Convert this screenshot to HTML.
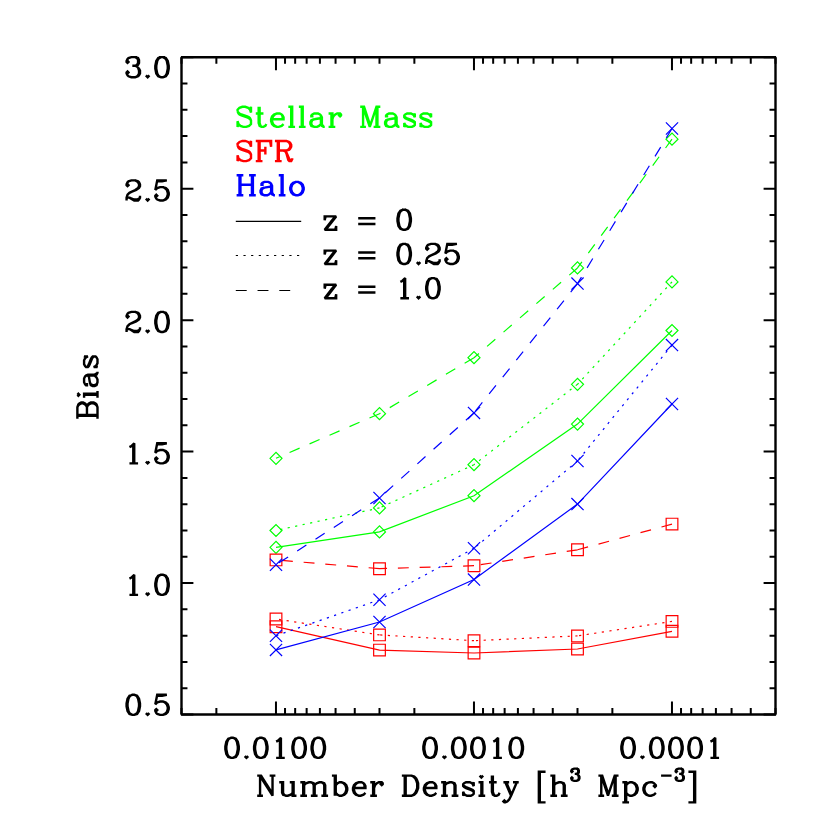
<!DOCTYPE html><html><head><meta charset="utf-8"><title>Bias vs Number Density</title><style>html,body{margin:0;padding:0;background:#fff;font-family:"Liberation Sans",sans-serif}svg{display:block}</style></head><body><svg width="830" height="830" viewBox="0 0 830 830"><rect width="830" height="830" fill="#fff"/><g fill="none" stroke-width="1.20"><path d="M672.00 330.50L577.50 424.10L474.00 495.70L379.50 531.90L276.00 547.30" stroke="#00ff00"/><path d="M270.00 547.30L276.00 541.30L282.00 547.30L276.00 553.30ZM373.50 531.90L379.50 525.90L385.50 531.90L379.50 537.90ZM468.00 495.70L474.00 489.70L480.00 495.70L474.00 501.70ZM571.50 424.10L577.50 418.10L583.50 424.10L577.50 430.10ZM666.00 330.50L672.00 324.50L678.00 330.50L672.00 336.50Z" stroke="#00ff00"/><path d="M672.00 281.90L577.50 384.30M577.50 384.30L474.00 464.70M474.00 464.70L379.50 507.95M379.50 507.95L276.00 530.50" stroke="#00ff00" stroke-dasharray="2.2 5.45"/><path d="M270.00 530.50L276.00 524.50L282.00 530.50L276.00 536.50ZM373.50 507.95L379.50 501.95L385.50 507.95L379.50 513.95ZM468.00 464.70L474.00 458.70L480.00 464.70L474.00 470.70ZM571.50 384.30L577.50 378.30L583.50 384.30L577.50 390.30ZM666.00 281.90L672.00 275.90L678.00 281.90L672.00 287.90Z" stroke="#00ff00"/><path d="M672.00 139.20L577.50 267.95M577.50 267.95L474.00 357.70M474.00 357.70L379.50 413.70M379.50 413.70L276.00 458.30" stroke="#00ff00" stroke-dasharray="10.9 10.85"/><path d="M270.00 458.30L276.00 452.30L282.00 458.30L276.00 464.30ZM373.50 413.70L379.50 407.70L385.50 413.70L379.50 419.70ZM468.00 357.70L474.00 351.70L480.00 357.70L474.00 363.70ZM571.50 267.95L577.50 261.95L583.50 267.95L577.50 273.95ZM666.00 139.20L672.00 133.20L678.00 139.20L672.00 145.20Z" stroke="#00ff00"/><path d="M672.00 631.30L577.50 649.00L474.00 653.00L379.50 650.10L276.00 626.70" stroke="#ff0000"/><path d="M270.15 620.85H281.85V632.55H270.15ZM373.65 644.25H385.35V655.95H373.65ZM468.15 647.15H479.85V658.85H468.15ZM571.65 643.15H583.35V654.85H571.65ZM666.15 625.45H677.85V637.15H666.15Z" stroke="#ff0000"/><path d="M672.00 621.40L577.50 635.90M577.50 635.90L474.00 640.70M474.00 640.70L379.50 634.90M379.50 634.90L276.00 619.00" stroke="#ff0000" stroke-dasharray="2.2 5.45"/><path d="M270.15 613.15H281.85V624.85H270.15ZM373.65 629.05H385.35V640.75H373.65ZM468.15 634.85H479.85V646.55H468.15ZM571.65 630.05H583.35V641.75H571.65ZM666.15 615.55H677.85V627.25H666.15Z" stroke="#ff0000"/><path d="M672.00 524.10L577.50 549.80M577.50 549.80L474.00 565.70M474.00 565.70L379.50 568.70M379.50 568.70L276.00 559.90" stroke="#ff0000" stroke-dasharray="10.9 10.85"/><path d="M270.15 554.05H281.85V565.75H270.15ZM373.65 562.85H385.35V574.55H373.65ZM468.15 559.85H479.85V571.55H468.15ZM571.65 543.95H583.35V555.65H571.65ZM666.15 518.25H677.85V529.95H666.15Z" stroke="#ff0000"/><path d="M672.00 404.00L577.50 504.10L474.00 579.60L379.50 622.00L276.00 649.90" stroke="#0000ff"/><path d="M269.90 643.80L282.10 656.00M269.90 656.00L282.10 643.80M373.40 615.90L385.60 628.10M373.40 628.10L385.60 615.90M467.90 573.50L480.10 585.70M467.90 585.70L480.10 573.50M571.40 498.00L583.60 510.20M571.40 510.20L583.60 498.00M665.90 397.90L678.10 410.10M665.90 410.10L678.10 397.90" stroke="#0000ff"/><path d="M672.00 345.06L577.50 461.00M577.50 461.00L474.00 548.30M474.00 548.30L379.50 599.80M379.50 599.80L276.00 635.70" stroke="#0000ff" stroke-dasharray="2.2 5.45"/><path d="M269.90 629.60L282.10 641.80M269.90 641.80L282.10 629.60M373.40 593.70L385.60 605.90M373.40 605.90L385.60 593.70M467.90 542.20L480.10 554.40M467.90 554.40L480.10 542.20M571.40 454.90L583.60 467.10M571.40 467.10L583.60 454.90M665.90 338.96L678.10 351.16M665.90 351.16L678.10 338.96" stroke="#0000ff"/><path d="M672.00 128.55L577.50 283.60M577.50 283.60L474.00 412.90M474.00 412.90L379.50 497.95M379.50 497.95L276.00 564.70" stroke="#0000ff" stroke-dasharray="10.9 10.85"/><path d="M269.90 558.60L282.10 570.80M269.90 570.80L282.10 558.60M373.40 491.85L385.60 504.05M373.40 504.05L385.60 491.85M467.90 406.80L480.10 419.00M467.90 419.00L480.10 406.80M571.40 277.50L583.60 289.70M571.40 289.70L583.60 277.50M665.90 122.45L678.10 134.65M665.90 134.65L678.10 122.45" stroke="#0000ff"/></g><g fill="none" stroke="#000" stroke-width="1.05"><path d="M235.80 221.35H301.20"/><path d="M235.80 255.50H301.20" stroke-dasharray="2.2 5.45"/><path d="M235.80 290.45H300.20" stroke-dasharray="10.9 10.85"/></g><g fill="none" stroke="#000"><path d="M180.90 714.50H776.10M180.90 57.25H776.10M181.50 57.25V714.50M775.50 57.25V714.50" stroke-width="2.40"/><path d="M181.50 714.50h11.90M775.50 714.50h-11.90M181.50 688.21h5.95M775.50 688.21h-5.95M181.50 661.92h5.95M775.50 661.92h-5.95M181.50 635.63h5.95M775.50 635.63h-5.95M181.50 609.34h5.95M775.50 609.34h-5.95M181.50 583.05h11.90M775.50 583.05h-11.90M181.50 556.76h5.95M775.50 556.76h-5.95M181.50 530.47h5.95M775.50 530.47h-5.95M181.50 504.18h5.95M775.50 504.18h-5.95M181.50 477.89h5.95M775.50 477.89h-5.95M181.50 451.60h11.90M775.50 451.60h-11.90M181.50 425.31h5.95M775.50 425.31h-5.95M181.50 399.02h5.95M775.50 399.02h-5.95M181.50 372.73h5.95M775.50 372.73h-5.95M181.50 346.44h5.95M775.50 346.44h-5.95M181.50 320.15h11.90M775.50 320.15h-11.90M181.50 293.86h5.95M775.50 293.86h-5.95M181.50 267.57h5.95M775.50 267.57h-5.95M181.50 241.28h5.95M775.50 241.28h-5.95M181.50 214.99h5.95M775.50 214.99h-5.95M181.50 188.70h11.90M775.50 188.70h-11.90M181.50 162.41h5.95M775.50 162.41h-5.95M181.50 136.12h5.95M775.50 136.12h-5.95M181.50 109.83h5.95M775.50 109.83h-5.95M181.50 83.54h5.95M775.50 83.54h-5.95M181.50 57.25h11.90M775.50 57.25h-11.90M275.97 714.50v-13.10M275.97 57.25v13.10M216.37 714.50v-6.55M216.37 57.25v6.55M181.50 714.50v-6.55M181.50 57.25v6.55M473.97 714.50v-13.10M473.97 57.25v13.10M414.37 714.50v-6.55M414.37 57.25v6.55M379.50 714.50v-6.55M379.50 57.25v6.55M354.76 714.50v-6.55M354.76 57.25v6.55M335.57 714.50v-6.55M335.57 57.25v6.55M319.90 714.50v-6.55M319.90 57.25v6.55M306.64 714.50v-6.55M306.64 57.25v6.55M295.16 714.50v-6.55M295.16 57.25v6.55M285.03 714.50v-6.55M285.03 57.25v6.55M671.97 714.50v-13.10M671.97 57.25v13.10M612.37 714.50v-6.55M612.37 57.25v6.55M577.50 714.50v-6.55M577.50 57.25v6.55M552.76 714.50v-6.55M552.76 57.25v6.55M533.57 714.50v-6.55M533.57 57.25v6.55M517.90 714.50v-6.55M517.90 57.25v6.55M504.64 714.50v-6.55M504.64 57.25v6.55M493.16 714.50v-6.55M493.16 57.25v6.55M483.03 714.50v-6.55M483.03 57.25v6.55M775.50 714.50v-6.55M775.50 57.25v6.55M750.76 714.50v-6.55M750.76 57.25v6.55M731.57 714.50v-6.55M731.57 57.25v6.55M715.90 714.50v-6.55M715.90 57.25v6.55M702.64 714.50v-6.55M702.64 57.25v6.55M691.16 714.50v-6.55M691.16 57.25v6.55M681.03 714.50v-6.55M681.03 57.25v6.55" stroke-width="2.00"/></g><g fill="none" stroke-linecap="butt" stroke-linejoin="miter" stroke-miterlimit="1.5"><path d="M127.53 60.96L128.49 61.92L127.53 62.88L126.57 61.92L126.57 60.96L127.53 59.05L128.49 58.09L131.36 57.13L135.20 57.13L138.07 58.09L139.03 60.01L139.03 62.88L138.07 64.80L135.20 65.75L132.32 65.75M127.53 73.42L128.49 72.46L127.53 71.50L126.57 72.46L126.57 73.42L127.53 75.33L128.49 76.29L131.36 77.25L135.20 77.25L138.07 76.29L139.03 75.33L139.99 73.42L139.99 70.54L139.03 68.63L137.11 66.71L135.20 65.75L137.11 64.80L138.07 62.88L138.07 60.01L137.11 58.09L135.20 57.13M135.20 77.25L137.11 76.29L138.07 75.33L139.03 73.42L139.03 70.54L138.07 67.67M147.65 75.33L146.69 76.29L147.65 77.25L148.61 76.29L147.65 75.33M161.06 57.13L158.19 58.09L156.27 60.96L155.31 65.75L155.31 68.63L156.27 73.42L158.19 76.29L161.06 77.25L162.98 77.25L165.85 76.29L167.77 73.42L168.73 68.63L168.73 65.75L167.77 60.96L165.85 58.09L162.98 57.13L161.06 57.13L159.15 58.09L158.19 59.05L157.23 60.96L156.27 65.75L156.27 68.63L157.23 73.42L158.19 75.33L159.15 76.29L161.06 77.25M162.98 57.13L164.89 58.09L165.85 59.05L166.81 60.96L167.77 65.75L167.77 68.63L166.81 73.42L165.85 75.33L164.89 76.29L162.98 77.25" stroke="#000" stroke-width="2.40" /><path d="M126.57 198.58L126.57 197.63L127.53 194.75L129.45 192.84L135.20 189.96L138.07 188.05L139.03 186.13L139.03 184.21L138.07 182.30L137.11 181.34L135.20 180.38L131.36 180.38L128.49 181.34L127.53 182.30L126.57 184.21L126.57 185.17L127.53 186.13L128.49 185.17L127.53 184.21M126.57 198.58L126.57 200.50M126.57 198.58L127.53 197.63L129.45 197.63L134.24 199.54L137.11 199.54L139.03 198.58L139.99 197.63L139.99 195.71M129.45 197.63L134.24 200.50L138.07 200.50L139.03 199.54L139.99 197.63M131.36 191.88L136.15 189.96L139.03 188.05L139.99 186.13L139.99 184.21L139.03 182.30L138.07 181.34L135.20 180.38M147.65 198.58L146.69 199.54L147.65 200.50L148.61 199.54L147.65 198.58M156.27 196.67L157.23 195.71L156.27 194.75L155.31 195.71L155.31 196.67L156.27 198.58L157.23 199.54L160.10 200.50L162.98 200.50L165.85 199.54L167.77 197.63L168.73 194.75L168.73 192.84L167.77 189.96L165.85 188.05L162.98 187.09L160.10 187.09L157.23 188.05L155.31 189.96L157.23 180.38L166.81 180.38L162.02 181.34L157.23 181.34M162.98 187.09L164.89 188.05L166.81 189.96L167.77 192.84L167.77 194.75L166.81 197.63L164.89 199.54L162.98 200.50" stroke="#000" stroke-width="2.40" /><path d="M126.57 330.03L126.57 329.08L127.53 326.20L129.45 324.29L135.20 321.41L138.07 319.50L139.03 317.58L139.03 315.66L138.07 313.75L137.11 312.79L135.20 311.83L131.36 311.83L128.49 312.79L127.53 313.75L126.57 315.66L126.57 316.62L127.53 317.58L128.49 316.62L127.53 315.66M126.57 330.03L126.57 331.95M126.57 330.03L127.53 329.08L129.45 329.08L134.24 330.99L137.11 330.99L139.03 330.03L139.99 329.08L139.99 327.16M129.45 329.08L134.24 331.95L138.07 331.95L139.03 330.99L139.99 329.08M131.36 323.33L136.15 321.41L139.03 319.50L139.99 317.58L139.99 315.66L139.03 313.75L138.07 312.79L135.20 311.83M147.65 330.03L146.69 330.99L147.65 331.95L148.61 330.99L147.65 330.03M161.06 311.83L158.19 312.79L156.27 315.66L155.31 320.45L155.31 323.33L156.27 328.12L158.19 330.99L161.06 331.95L162.98 331.95L165.85 330.99L167.77 328.12L168.73 323.33L168.73 320.45L167.77 315.66L165.85 312.79L162.98 311.83L161.06 311.83L159.15 312.79L158.19 313.75L157.23 315.66L156.27 320.45L156.27 323.33L157.23 328.12L158.19 330.03L159.15 330.99L161.06 331.95M162.98 311.83L164.89 312.79L165.85 313.75L166.81 315.66L167.77 320.45L167.77 323.33L166.81 328.12L165.85 330.03L164.89 330.99L162.98 331.95" stroke="#000" stroke-width="2.40" /><path d="M129.45 447.11L131.36 446.16L134.24 443.28L134.24 463.40L129.45 463.40M133.28 444.24L133.28 463.40M134.24 463.40L138.07 463.40M147.65 461.48L146.69 462.44L147.65 463.40L148.61 462.44L147.65 461.48M156.27 459.57L157.23 458.61L156.27 457.65L155.31 458.61L155.31 459.57L156.27 461.48L157.23 462.44L160.10 463.40L162.98 463.40L165.85 462.44L167.77 460.53L168.73 457.65L168.73 455.74L167.77 452.86L165.85 450.95L162.98 449.99L160.10 449.99L157.23 450.95L155.31 452.86L157.23 443.28L166.81 443.28L162.02 444.24L157.23 444.24M162.98 449.99L164.89 450.95L166.81 452.86L167.77 455.74L167.77 457.65L166.81 460.53L164.89 462.44L162.98 463.40" stroke="#000" stroke-width="2.40" /><path d="M129.45 578.56L131.36 577.61L134.24 574.73L134.24 594.85L129.45 594.85M133.28 575.69L133.28 594.85M134.24 594.85L138.07 594.85M147.65 592.93L146.69 593.89L147.65 594.85L148.61 593.89L147.65 592.93M161.06 574.73L158.19 575.69L156.27 578.56L155.31 583.35L155.31 586.23L156.27 591.02L158.19 593.89L161.06 594.85L162.98 594.85L165.85 593.89L167.77 591.02L168.73 586.23L168.73 583.35L167.77 578.56L165.85 575.69L162.98 574.73L161.06 574.73L159.15 575.69L158.19 576.65L157.23 578.56L156.27 583.35L156.27 586.23L157.23 591.02L158.19 592.93L159.15 593.89L161.06 594.85M162.98 574.73L164.89 575.69L165.85 576.65L166.81 578.56L167.77 583.35L167.77 586.23L166.81 591.02L165.85 592.93L164.89 593.89L162.98 594.85" stroke="#000" stroke-width="2.40" /><path d="M132.32 694.78L129.45 695.74L127.53 698.61L126.57 703.40L126.57 706.28L127.53 711.07L129.45 713.94L132.32 714.90L134.24 714.90L137.11 713.94L139.03 711.07L139.99 706.28L139.99 703.40L139.03 698.61L137.11 695.74L134.24 694.78L132.32 694.78L130.41 695.74L129.45 696.70L128.49 698.61L127.53 703.40L127.53 706.28L128.49 711.07L129.45 712.98L130.41 713.94L132.32 714.90M134.24 694.78L136.15 695.74L137.11 696.70L138.07 698.61L139.03 703.40L139.03 706.28L138.07 711.07L137.11 712.98L136.15 713.94L134.24 714.90M147.65 712.98L146.69 713.94L147.65 714.90L148.61 713.94L147.65 712.98M156.27 711.07L157.23 710.11L156.27 709.15L155.31 710.11L155.31 711.07L156.27 712.98L157.23 713.94L160.10 714.90L162.98 714.90L165.85 713.94L167.77 712.03L168.73 709.15L168.73 707.24L167.77 704.36L165.85 702.45L162.98 701.49L160.10 701.49L157.23 702.45L155.31 704.36L157.23 694.78L166.81 694.78L162.02 695.74L157.23 695.74M162.98 701.49L164.89 702.45L166.81 704.36L167.77 707.24L167.77 709.15L166.81 712.03L164.89 713.94L162.98 714.90" stroke="#000" stroke-width="2.40" /><path d="M231.10 737.78L228.23 738.74L226.31 741.61L225.35 746.40L225.35 749.28L226.31 754.07L228.23 756.94L231.10 757.90L233.02 757.90L235.89 756.94L237.81 754.07L238.77 749.28L238.77 746.40L237.81 741.61L235.89 738.74L233.02 737.78L231.10 737.78L229.19 738.74L228.23 739.70L227.27 741.61L226.31 746.40L226.31 749.28L227.27 754.07L228.23 755.98L229.19 756.94L231.10 757.90M233.02 737.78L234.93 738.74L235.89 739.70L236.85 741.61L237.81 746.40L237.81 749.28L236.85 754.07L235.89 755.98L234.93 756.94L233.02 757.90M246.43 755.98L245.47 756.94L246.43 757.90L247.39 756.94L246.43 755.98M259.84 737.78L256.97 738.74L255.05 741.61L254.09 746.40L254.09 749.28L255.05 754.07L256.97 756.94L259.84 757.90L261.76 757.90L264.63 756.94L266.55 754.07L267.51 749.28L267.51 746.40L266.55 741.61L264.63 738.74L261.76 737.78L259.84 737.78L257.93 738.74L256.97 739.70L256.01 741.61L255.05 746.40L255.05 749.28L256.01 754.07L256.97 755.98L257.93 756.94L259.84 757.90M261.76 737.78L263.67 738.74L264.63 739.70L265.59 741.61L266.55 746.40L266.55 749.28L265.59 754.07L264.63 755.98L263.67 756.94L261.76 757.90M276.13 741.61L278.04 740.66L280.92 737.78L280.92 757.90L276.13 757.90M279.96 738.74L279.96 757.90M280.92 757.90L284.75 757.90M298.16 737.78L295.29 738.74L293.37 741.61L292.41 746.40L292.41 749.28L293.37 754.07L295.29 756.94L298.16 757.90L300.08 757.90L302.95 756.94L304.87 754.07L305.83 749.28L305.83 746.40L304.87 741.61L302.95 738.74L300.08 737.78L298.16 737.78L296.25 738.74L295.29 739.70L294.33 741.61L293.37 746.40L293.37 749.28L294.33 754.07L295.29 755.98L296.25 756.94L298.16 757.90M300.08 737.78L301.99 738.74L302.95 739.70L303.91 741.61L304.87 746.40L304.87 749.28L303.91 754.07L302.95 755.98L301.99 756.94L300.08 757.90M317.32 737.78L314.45 738.74L312.53 741.61L311.57 746.40L311.57 749.28L312.53 754.07L314.45 756.94L317.32 757.90L319.24 757.90L322.11 756.94L324.03 754.07L324.99 749.28L324.99 746.40L324.03 741.61L322.11 738.74L319.24 737.78L317.32 737.78L315.41 738.74L314.45 739.70L313.49 741.61L312.53 746.40L312.53 749.28L313.49 754.07L314.45 755.98L315.41 756.94L317.32 757.90M319.24 737.78L321.15 738.74L322.11 739.70L323.07 741.61L324.03 746.40L324.03 749.28L323.07 754.07L322.11 755.98L321.15 756.94L319.24 757.90" stroke="#000" stroke-width="2.40" /><path d="M429.10 737.78L426.23 738.74L424.31 741.61L423.35 746.40L423.35 749.28L424.31 754.07L426.23 756.94L429.10 757.90L431.02 757.90L433.89 756.94L435.81 754.07L436.77 749.28L436.77 746.40L435.81 741.61L433.89 738.74L431.02 737.78L429.10 737.78L427.19 738.74L426.23 739.70L425.27 741.61L424.31 746.40L424.31 749.28L425.27 754.07L426.23 755.98L427.19 756.94L429.10 757.90M431.02 737.78L432.93 738.74L433.89 739.70L434.85 741.61L435.81 746.40L435.81 749.28L434.85 754.07L433.89 755.98L432.93 756.94L431.02 757.90M444.43 755.98L443.47 756.94L444.43 757.90L445.39 756.94L444.43 755.98M457.84 737.78L454.97 738.74L453.05 741.61L452.09 746.40L452.09 749.28L453.05 754.07L454.97 756.94L457.84 757.90L459.76 757.90L462.63 756.94L464.55 754.07L465.51 749.28L465.51 746.40L464.55 741.61L462.63 738.74L459.76 737.78L457.84 737.78L455.93 738.74L454.97 739.70L454.01 741.61L453.05 746.40L453.05 749.28L454.01 754.07L454.97 755.98L455.93 756.94L457.84 757.90M459.76 737.78L461.67 738.74L462.63 739.70L463.59 741.61L464.55 746.40L464.55 749.28L463.59 754.07L462.63 755.98L461.67 756.94L459.76 757.90M477.00 737.78L474.13 738.74L472.21 741.61L471.25 746.40L471.25 749.28L472.21 754.07L474.13 756.94L477.00 757.90L478.92 757.90L481.79 756.94L483.71 754.07L484.67 749.28L484.67 746.40L483.71 741.61L481.79 738.74L478.92 737.78L477.00 737.78L475.09 738.74L474.13 739.70L473.17 741.61L472.21 746.40L472.21 749.28L473.17 754.07L474.13 755.98L475.09 756.94L477.00 757.90M478.92 737.78L480.83 738.74L481.79 739.70L482.75 741.61L483.71 746.40L483.71 749.28L482.75 754.07L481.79 755.98L480.83 756.94L478.92 757.90M493.29 741.61L495.20 740.66L498.08 737.78L498.08 757.90L493.29 757.90M497.12 738.74L497.12 757.90M498.08 757.90L501.91 757.90M515.32 737.78L512.45 738.74L510.53 741.61L509.57 746.40L509.57 749.28L510.53 754.07L512.45 756.94L515.32 757.90L517.24 757.90L520.11 756.94L522.03 754.07L522.99 749.28L522.99 746.40L522.03 741.61L520.11 738.74L517.24 737.78L515.32 737.78L513.41 738.74L512.45 739.70L511.49 741.61L510.53 746.40L510.53 749.28L511.49 754.07L512.45 755.98L513.41 756.94L515.32 757.90M517.24 737.78L519.15 738.74L520.11 739.70L521.07 741.61L522.03 746.40L522.03 749.28L521.07 754.07L520.11 755.98L519.15 756.94L517.24 757.90" stroke="#000" stroke-width="2.40" /><path d="M627.10 737.78L624.23 738.74L622.31 741.61L621.35 746.40L621.35 749.28L622.31 754.07L624.23 756.94L627.10 757.90L629.02 757.90L631.89 756.94L633.81 754.07L634.77 749.28L634.77 746.40L633.81 741.61L631.89 738.74L629.02 737.78L627.10 737.78L625.19 738.74L624.23 739.70L623.27 741.61L622.31 746.40L622.31 749.28L623.27 754.07L624.23 755.98L625.19 756.94L627.10 757.90M629.02 737.78L630.93 738.74L631.89 739.70L632.85 741.61L633.81 746.40L633.81 749.28L632.85 754.07L631.89 755.98L630.93 756.94L629.02 757.90M642.43 755.98L641.47 756.94L642.43 757.90L643.39 756.94L642.43 755.98M655.84 737.78L652.97 738.74L651.05 741.61L650.09 746.40L650.09 749.28L651.05 754.07L652.97 756.94L655.84 757.90L657.76 757.90L660.63 756.94L662.55 754.07L663.51 749.28L663.51 746.40L662.55 741.61L660.63 738.74L657.76 737.78L655.84 737.78L653.93 738.74L652.97 739.70L652.01 741.61L651.05 746.40L651.05 749.28L652.01 754.07L652.97 755.98L653.93 756.94L655.84 757.90M657.76 737.78L659.67 738.74L660.63 739.70L661.59 741.61L662.55 746.40L662.55 749.28L661.59 754.07L660.63 755.98L659.67 756.94L657.76 757.90M675.00 737.78L672.13 738.74L670.21 741.61L669.25 746.40L669.25 749.28L670.21 754.07L672.13 756.94L675.00 757.90L676.92 757.90L679.79 756.94L681.71 754.07L682.67 749.28L682.67 746.40L681.71 741.61L679.79 738.74L676.92 737.78L675.00 737.78L673.09 738.74L672.13 739.70L671.17 741.61L670.21 746.40L670.21 749.28L671.17 754.07L672.13 755.98L673.09 756.94L675.00 757.90M676.92 737.78L678.83 738.74L679.79 739.70L680.75 741.61L681.71 746.40L681.71 749.28L680.75 754.07L679.79 755.98L678.83 756.94L676.92 757.90M694.16 737.78L691.29 738.74L689.37 741.61L688.41 746.40L688.41 749.28L689.37 754.07L691.29 756.94L694.16 757.90L696.08 757.90L698.95 756.94L700.87 754.07L701.83 749.28L701.83 746.40L700.87 741.61L698.95 738.74L696.08 737.78L694.16 737.78L692.25 738.74L691.29 739.70L690.33 741.61L689.37 746.40L689.37 749.28L690.33 754.07L691.29 755.98L692.25 756.94L694.16 757.90M696.08 737.78L697.99 738.74L698.95 739.70L699.91 741.61L700.87 746.40L700.87 749.28L699.91 754.07L698.95 755.98L697.99 756.94L696.08 757.90M710.45 741.61L712.36 740.66L715.24 737.78L715.24 757.90L710.45 757.90M714.28 738.74L714.28 757.90M715.24 757.90L719.07 757.90" stroke="#000" stroke-width="2.40" /><path d="M237.57 111.57L237.57 109.66L239.49 107.74L242.36 106.78L245.24 106.78L248.11 107.74L250.03 109.66L250.99 112.53L250.99 106.78L250.03 109.66M237.57 111.57L239.49 113.49L241.41 114.45L247.15 116.36L249.07 117.32L250.03 118.28L250.99 120.19L250.99 124.03L249.07 125.94L246.20 126.90L243.32 126.90L240.45 125.94L238.53 124.03L237.57 121.15L237.57 126.90L238.53 124.03M237.57 111.57L238.53 113.49L239.49 114.45L241.41 115.40L247.15 117.32L249.07 118.28L250.99 120.19M255.78 113.49L263.44 113.49M258.65 106.78L258.65 123.07L259.61 125.94L261.52 126.90L263.44 126.90L265.36 125.94L266.31 124.03M259.61 106.78L259.61 123.07L260.57 125.94L261.52 126.90M272.06 119.24L272.06 121.15L273.02 124.03L274.94 125.94L276.85 126.90L278.77 126.90L281.64 125.94L283.56 124.03M272.06 119.24L283.56 119.24L283.56 117.32L282.60 115.40L281.64 114.45L279.73 113.49L276.85 113.49L273.98 114.45L272.06 116.36L271.10 119.24L271.10 121.15L272.06 124.03L273.98 125.94L276.85 126.90M272.06 119.24L273.02 116.36L274.94 114.45L276.85 113.49M281.64 114.45L282.60 116.36L282.60 119.24M288.35 106.78L292.18 106.78L292.18 126.90L288.35 126.90M291.22 106.78L291.22 126.90M292.18 126.90L295.05 126.90M298.89 106.78L302.72 106.78L302.72 126.90L298.89 126.90M301.76 106.78L301.76 126.90M302.72 126.90L305.59 126.90M312.30 115.40L312.30 116.36L311.34 116.36L311.34 115.40L312.30 114.45L314.21 113.49L318.05 113.49L319.96 114.45L320.92 115.40L321.88 117.32L321.88 124.03L322.84 125.94L323.79 126.90L324.75 126.90M314.21 119.24L311.34 120.19L310.38 122.11L310.38 124.03L311.34 125.94L314.21 126.90L317.09 126.90L319.00 125.94L320.92 124.03L320.92 115.40M314.21 119.24L312.30 120.19L311.34 122.11L311.34 124.03L312.30 125.94L314.21 126.90M314.21 119.24L319.96 118.28L320.92 117.32M320.92 124.03L321.88 125.94L323.79 126.90M328.58 113.49L332.42 113.49L332.42 126.90L328.58 126.90M331.46 113.49L331.46 126.90M332.42 119.24L333.37 116.36L335.29 114.45L337.21 113.49L340.08 113.49L341.04 114.45L341.04 115.40L340.08 116.36L339.12 115.40L340.08 114.45M332.42 126.90L335.29 126.90M360.20 106.78L364.03 106.78L369.78 124.03M360.20 126.90L365.95 126.90M363.07 126.90L363.07 106.78L369.78 126.90L376.48 106.78L380.32 106.78M373.61 126.90L380.32 126.90M376.48 106.78L376.48 126.90M377.44 106.78L377.44 126.90M387.02 115.40L387.02 116.36L386.06 116.36L386.06 115.40L387.02 114.45L388.94 113.49L392.77 113.49L394.69 114.45L395.64 115.40L396.60 117.32L396.60 124.03L397.56 125.94L398.52 126.90L399.48 126.90M388.94 119.24L386.06 120.19L385.11 122.11L385.11 124.03L386.06 125.94L388.94 126.90L391.81 126.90L393.73 125.94L395.64 124.03L395.64 115.40M388.94 119.24L387.02 120.19L386.06 122.11L386.06 124.03L387.02 125.94L388.94 126.90M388.94 119.24L394.69 118.28L395.64 117.32M395.64 124.03L396.60 125.94L398.52 126.90M404.27 116.36L404.27 115.40L405.22 114.45L407.14 113.49L410.97 113.49L412.89 114.45L413.85 115.40L414.80 117.32L414.80 113.49L413.85 115.40M404.27 116.36L404.27 117.32L405.22 118.28L407.14 119.24L411.93 121.15L413.85 122.11L414.80 123.07L414.80 124.98L413.85 125.94L411.93 126.90L408.10 126.90L406.18 125.94L405.22 124.98L404.27 123.07L404.27 126.90L405.22 124.98M404.27 116.36L405.22 117.32L407.14 118.28L411.93 120.19L413.85 121.15L414.80 122.11L414.80 123.07M420.55 116.36L420.55 115.40L421.51 114.45L423.43 113.49L427.26 113.49L429.17 114.45L430.13 115.40L431.09 117.32L431.09 113.49L430.13 115.40M420.55 116.36L420.55 117.32L421.51 118.28L423.43 119.24L428.22 121.15L430.13 122.11L431.09 123.07L431.09 124.98L430.13 125.94L428.22 126.90L424.38 126.90L422.47 125.94L421.51 124.98L420.55 123.07L420.55 126.90L421.51 124.98M420.55 116.36L421.51 117.32L423.43 118.28L428.22 120.19L430.13 121.15L431.09 122.11L431.09 123.07" stroke="#00ff00" stroke-width="2.40" /><path d="M237.57 145.77L237.57 143.86L239.49 141.94L242.36 140.98L245.24 140.98L248.11 141.94L250.03 143.86L250.99 146.73L250.99 140.98L250.03 143.86M237.57 145.77L239.49 147.69L241.41 148.65L247.15 150.56L249.07 151.52L250.03 152.48L250.99 154.39L250.99 158.23L249.07 160.14L246.20 161.10L243.32 161.10L240.45 160.14L238.53 158.23L237.57 155.35L237.57 161.10L238.53 158.23M237.57 145.77L238.53 147.69L239.49 148.65L241.41 149.60L247.15 151.52L249.07 152.48L250.99 154.39M255.78 140.98L271.10 140.98L271.10 146.73L270.15 140.98M255.78 161.10L262.48 161.10M258.65 140.98L258.65 161.10M259.61 140.98L259.61 161.10M259.61 150.56L265.36 150.56L265.36 146.73M265.36 150.56L265.36 154.39M274.94 140.98L286.43 140.98L289.31 141.94L290.26 142.90L291.22 144.81L291.22 146.73L290.26 148.65L289.31 149.60L286.43 150.56L278.77 150.56L278.77 140.98M274.94 161.10L281.64 161.10M277.81 140.98L277.81 161.10M278.77 150.56L278.77 161.10M283.56 150.56L285.47 151.52L286.43 152.48L289.31 159.18L290.26 160.14L291.22 160.14L292.18 159.18L292.18 158.23M285.47 151.52L286.43 153.44L288.35 160.14L289.31 161.10L291.22 161.10L292.18 159.18M286.43 140.98L288.35 141.94L289.31 142.90L290.26 144.81L290.26 146.73L289.31 148.65L288.35 149.60L286.43 150.56" stroke="#ff0000" stroke-width="2.40" /><path d="M236.62 175.18L243.32 175.18M236.62 195.30L243.32 195.30M239.49 175.18L239.49 195.30M240.45 175.18L240.45 195.30M240.45 184.76L251.94 184.76L251.94 175.18L249.07 175.18M249.07 195.30L255.78 195.30M251.94 175.18L255.78 175.18M251.94 184.76L251.94 195.30M252.90 175.18L252.90 195.30M262.48 183.80L262.48 184.76L261.52 184.76L261.52 183.80L262.48 182.85L264.40 181.89L268.23 181.89L270.15 182.85L271.10 183.80L272.06 185.72L272.06 192.43L273.02 194.34L273.98 195.30L274.94 195.30M264.40 187.64L261.52 188.59L260.57 190.51L260.57 192.43L261.52 194.34L264.40 195.30L267.27 195.30L269.19 194.34L271.10 192.43L271.10 183.80M264.40 187.64L262.48 188.59L261.52 190.51L261.52 192.43L262.48 194.34L264.40 195.30M264.40 187.64L270.15 186.68L271.10 185.72M271.10 192.43L272.06 194.34L273.98 195.30M278.77 175.18L282.60 175.18L282.60 195.30L278.77 195.30M281.64 175.18L281.64 195.30M282.60 195.30L285.47 195.30M296.01 181.89L293.14 182.85L291.22 184.76L290.26 187.64L290.26 189.55L291.22 192.43L293.14 194.34L296.01 195.30L297.93 195.30L300.80 194.34L302.72 192.43L303.68 189.55L303.68 187.64L302.72 184.76L300.80 182.85L297.93 181.89L296.01 181.89L294.10 182.85L292.18 184.76L291.22 187.64L291.22 189.55L292.18 192.43L294.10 194.34L296.01 195.30M297.93 181.89L299.84 182.85L301.76 184.76L302.72 187.64L302.72 189.55L301.76 192.43L299.84 194.34L297.93 195.30" stroke="#0000ff" stroke-width="2.40" /><path d="M325.63 216.39L324.67 216.39L324.67 220.22L325.63 216.39L336.17 216.39L329.46 225.01L325.63 229.80L324.67 229.80L331.38 221.18L335.21 216.39L328.51 225.01L324.67 229.80L335.21 216.39M325.63 229.80L336.17 229.80L336.17 225.97L335.21 229.80M325.63 229.80L332.34 221.18L336.17 216.39L325.63 229.80M328.51 225.01L331.38 221.18M329.46 225.01L332.34 221.18M358.20 218.30L375.45 218.30M358.20 224.05L375.45 224.05M403.23 209.68L400.36 210.64L398.44 213.51L397.48 218.30L397.48 221.18L398.44 225.97L400.36 228.84L403.23 229.80L405.15 229.80L408.02 228.84L409.94 225.97L410.89 221.18L410.89 218.30L409.94 213.51L408.02 210.64L405.15 209.68L403.23 209.68L401.31 210.64L400.36 211.60L399.40 213.51L398.44 218.30L398.44 221.18L399.40 225.97L400.36 227.88L401.31 228.84L403.23 229.80M405.15 209.68L407.06 210.64L408.02 211.60L408.98 213.51L409.94 218.30L409.94 221.18L408.98 225.97L408.02 227.88L407.06 228.84L405.15 229.80" stroke="#000" stroke-width="2.40" /><path d="M325.63 250.59L324.67 250.59L324.67 254.42L325.63 250.59L336.17 250.59L329.46 259.21L325.63 264.00L324.67 264.00L331.38 255.38L335.21 250.59L328.51 259.21L324.67 264.00L335.21 250.59M325.63 264.00L336.17 264.00L336.17 260.17L335.21 264.00M325.63 264.00L332.34 255.38L336.17 250.59L325.63 264.00M328.51 259.21L331.38 255.38M329.46 259.21L332.34 255.38M358.20 252.50L375.45 252.50M358.20 258.25L375.45 258.25M403.23 243.88L400.36 244.84L398.44 247.71L397.48 252.50L397.48 255.38L398.44 260.17L400.36 263.04L403.23 264.00L405.15 264.00L408.02 263.04L409.94 260.17L410.89 255.38L410.89 252.50L409.94 247.71L408.02 244.84L405.15 243.88L403.23 243.88L401.31 244.84L400.36 245.80L399.40 247.71L398.44 252.50L398.44 255.38L399.40 260.17L400.36 262.08L401.31 263.04L403.23 264.00M405.15 243.88L407.06 244.84L408.02 245.80L408.98 247.71L409.94 252.50L409.94 255.38L408.98 260.17L408.02 262.08L407.06 263.04L405.15 264.00M418.56 262.08L417.60 263.04L418.56 264.00L419.52 263.04L418.56 262.08M426.22 262.08L426.22 261.13L427.18 258.25L429.10 256.34L434.84 253.46L437.72 251.55L438.68 249.63L438.68 247.71L437.72 245.80L436.76 244.84L434.84 243.88L431.01 243.88L428.14 244.84L427.18 245.80L426.22 247.71L426.22 248.67L427.18 249.63L428.14 248.67L427.18 247.71M426.22 262.08L426.22 264.00M426.22 262.08L427.18 261.13L429.10 261.13L433.89 263.04L436.76 263.04L438.68 262.08L439.63 261.13L439.63 259.21M429.10 261.13L433.89 264.00L437.72 264.00L438.68 263.04L439.63 261.13M431.01 255.38L435.80 253.46L438.68 251.55L439.63 249.63L439.63 247.71L438.68 245.80L437.72 244.84L434.84 243.88M446.34 260.17L447.30 259.21L446.34 258.25L445.38 259.21L445.38 260.17L446.34 262.08L447.30 263.04L450.17 264.00L453.05 264.00L455.92 263.04L457.84 261.13L458.79 258.25L458.79 256.34L457.84 253.46L455.92 251.55L453.05 250.59L450.17 250.59L447.30 251.55L445.38 253.46L447.30 243.88L456.88 243.88L452.09 244.84L447.30 244.84M453.05 250.59L454.96 251.55L456.88 253.46L457.84 256.34L457.84 258.25L456.88 261.13L454.96 263.04L453.05 264.00" stroke="#000" stroke-width="2.40" /><path d="M325.63 284.79L324.67 284.79L324.67 288.62L325.63 284.79L336.17 284.79L329.46 293.41L325.63 298.20L324.67 298.20L331.38 289.58L335.21 284.79L328.51 293.41L324.67 298.20L335.21 284.79M325.63 298.20L336.17 298.20L336.17 294.37L335.21 298.20M325.63 298.20L332.34 289.58L336.17 284.79L325.63 298.20M328.51 293.41L331.38 289.58M329.46 293.41L332.34 289.58M358.20 286.70L375.45 286.70M358.20 292.45L375.45 292.45M400.36 281.91L402.27 280.96L405.15 278.08L405.15 298.20L400.36 298.20M404.19 279.04L404.19 298.20M405.15 298.20L408.98 298.20M418.56 296.28L417.60 297.24L418.56 298.20L419.52 297.24L418.56 296.28M431.97 278.08L429.10 279.04L427.18 281.91L426.22 286.70L426.22 289.58L427.18 294.37L429.10 297.24L431.97 298.20L433.89 298.20L436.76 297.24L438.68 294.37L439.63 289.58L439.63 286.70L438.68 281.91L436.76 279.04L433.89 278.08L431.97 278.08L430.05 279.04L429.10 280.00L428.14 281.91L427.18 286.70L427.18 289.58L428.14 294.37L429.10 296.28L430.05 297.24L431.97 298.20M433.89 278.08L435.80 279.04L436.76 280.00L437.72 281.91L438.68 286.70L438.68 289.58L437.72 294.37L436.76 296.28L435.80 297.24L433.89 298.20" stroke="#000" stroke-width="2.40" /><path d="M257.20 775.58L261.03 775.58L267.74 786.12L272.53 793.78L272.53 795.70L265.82 785.16L261.03 777.50L267.74 788.04L272.53 795.70L261.03 777.50M257.20 795.70L262.95 795.70M260.07 775.58L260.07 795.70M265.82 783.25L261.03 775.58L272.53 793.78L272.53 775.58L269.65 775.58M265.82 783.25L267.74 786.12M265.82 783.25L272.53 793.78M265.82 785.16L267.74 788.04M272.53 775.58L275.40 775.58M279.23 782.29L283.06 782.29L283.06 792.83L284.02 794.74L285.94 795.70L287.85 795.70L290.73 794.74L292.64 792.83L292.64 782.29L289.77 782.29M282.11 782.29L282.11 792.83L283.06 794.74L285.94 795.70M292.64 782.29L293.60 782.29L293.60 795.70L292.64 795.70L292.64 792.83M293.60 795.70L296.48 795.70M300.31 782.29L304.14 782.29L304.14 795.70L300.31 795.70M303.18 782.29L303.18 795.70M304.14 785.16L306.06 783.25L308.93 782.29L310.85 782.29L313.72 783.25L314.68 785.16L314.68 795.70L310.85 795.70M304.14 795.70L307.01 795.70M310.85 782.29L312.76 783.25L313.72 785.16L313.72 795.70M314.68 785.16L316.59 783.25L319.47 782.29L321.38 782.29L324.26 783.25L325.22 785.16L325.22 795.70L321.38 795.70M314.68 795.70L317.55 795.70M321.38 782.29L323.30 783.25L324.26 785.16L324.26 795.70M325.22 795.70L328.09 795.70M331.92 775.58L335.75 775.58L335.75 795.70M334.80 775.58L334.80 795.70M335.75 785.16L337.67 783.25L339.59 782.29L341.50 782.29L344.38 783.25L346.29 785.16L347.25 788.04L347.25 789.95L346.29 792.83L344.38 794.74L341.50 795.70L339.59 795.70L337.67 794.74L335.75 792.83M341.50 782.29L343.42 783.25L345.33 785.16L346.29 788.04L346.29 789.95L345.33 792.83L343.42 794.74L341.50 795.70M353.96 788.04L353.96 789.95L354.91 792.83L356.83 794.74L358.75 795.70L360.66 795.70L363.54 794.74L365.45 792.83M353.96 788.04L365.45 788.04L365.45 786.12L364.49 784.20L363.54 783.25L361.62 782.29L358.75 782.29L355.87 783.25L353.96 785.16L353.00 788.04L353.00 789.95L353.96 792.83L355.87 794.74L358.75 795.70M353.96 788.04L354.91 785.16L356.83 783.25L358.75 782.29M363.54 783.25L364.49 785.16L364.49 788.04M370.24 782.29L374.07 782.29L374.07 795.70L370.24 795.70M373.12 782.29L373.12 795.70M374.07 788.04L375.03 785.16L376.95 783.25L378.86 782.29L381.74 782.29L382.70 783.25L382.70 784.20L381.74 785.16L380.78 784.20L381.74 783.25M374.07 795.70L376.95 795.70M401.86 775.58L411.44 775.58L414.31 776.54L416.23 778.46L417.18 780.37L418.14 783.25L418.14 788.04L417.18 790.91L416.23 792.83L414.31 794.74L411.44 795.70L401.86 795.70M404.73 775.58L404.73 795.70M405.69 775.58L405.69 795.70M411.44 775.58L413.35 776.54L415.27 778.46L416.23 780.37L417.18 783.25L417.18 788.04L416.23 790.91L415.27 792.83L413.35 794.74L411.44 795.70M424.85 788.04L424.85 789.95L425.81 792.83L427.72 794.74L429.64 795.70L431.55 795.70L434.43 794.74L436.34 792.83M424.85 788.04L436.34 788.04L436.34 786.12L435.39 784.20L434.43 783.25L432.51 782.29L429.64 782.29L426.76 783.25L424.85 785.16L423.89 788.04L423.89 789.95L424.85 792.83L426.76 794.74L429.64 795.70M424.85 788.04L425.81 785.16L427.72 783.25L429.64 782.29M434.43 783.25L435.39 785.16L435.39 788.04M441.13 782.29L444.97 782.29L444.97 795.70L441.13 795.70M444.01 782.29L444.01 795.70M444.97 785.16L446.88 783.25L449.76 782.29L451.67 782.29L454.55 783.25L455.50 785.16L455.50 795.70L451.67 795.70M444.97 795.70L447.84 795.70M451.67 782.29L453.59 783.25L454.55 785.16L454.55 795.70M455.50 795.70L458.38 795.70M463.17 785.16L463.17 784.20L464.13 783.25L466.04 782.29L469.87 782.29L471.79 783.25L472.75 784.20L473.71 786.12L473.71 782.29L472.75 784.20M463.17 785.16L463.17 786.12L464.13 787.08L466.04 788.04L470.83 789.95L472.75 790.91L473.71 791.87L473.71 793.78L472.75 794.74L470.83 795.70L467.00 795.70L465.08 794.74L464.13 793.78L463.17 791.87L463.17 795.70L464.13 793.78M463.17 785.16L464.13 786.12L466.04 787.08L470.83 788.99L472.75 789.95L473.71 790.91L473.71 791.87M478.50 782.29L482.33 782.29L482.33 795.70L478.50 795.70M481.37 782.29L481.37 795.70M482.33 795.70L485.20 795.70M481.37 775.58L480.41 776.54L481.37 777.50L482.33 776.54L481.37 775.58M489.03 782.29L496.70 782.29M491.91 775.58L491.91 791.87L492.87 794.74L494.78 795.70L496.70 795.70L498.61 794.74L499.57 792.83M492.87 775.58L492.87 791.87L493.82 794.74L494.78 795.70M503.40 782.29L509.15 782.29M505.32 782.29L511.07 795.70L509.15 799.53L507.24 801.45L505.32 802.41L504.36 802.41L503.40 801.45L504.36 800.49L505.32 801.45M506.28 782.29L511.07 793.78M511.07 795.70L516.82 782.29L518.73 782.29M512.98 782.29L516.82 782.29M539.81 771.75L538.85 771.75L538.85 802.41L545.56 802.41M539.81 771.75L539.81 802.41M539.81 771.75L545.56 771.75M550.35 775.58L554.18 775.58L554.18 795.70L550.35 795.70M553.22 775.58L553.22 795.70M554.18 785.16L556.09 783.25L558.97 782.29L560.88 782.29L563.76 783.25L564.72 785.16L564.72 795.70L560.88 795.70M554.18 795.70L557.05 795.70M560.88 782.29L562.80 783.25L563.76 785.16L563.76 795.70M564.72 795.70L567.59 795.70M571.84 771.00L572.42 771.58L571.84 772.16L571.25 771.58L571.25 771.00L571.84 769.83L572.42 769.25L574.17 768.67L576.50 768.67L578.24 769.25L578.83 770.42L578.83 772.16L578.24 773.33L576.50 773.91L574.75 773.91M571.84 778.57L572.42 777.99L571.84 777.41L571.25 777.99L571.25 778.57L571.84 779.74L572.42 780.32L574.17 780.90L576.50 780.90L578.24 780.32L578.83 779.74L579.41 778.57L579.41 776.82L578.83 775.66L577.66 774.49L576.50 773.91L577.66 773.33L578.24 772.16L578.24 770.42L577.66 769.25L576.50 768.67M576.50 780.90L577.66 780.32L578.24 779.74L578.83 778.57L578.83 776.82L578.24 775.08M598.40 775.58L602.23 775.58L607.98 792.83M598.40 795.70L604.15 795.70M601.27 795.70L601.27 775.58L607.98 795.70L614.69 775.58L618.52 775.58M611.81 795.70L618.52 795.70M614.69 775.58L614.69 795.70M615.64 775.58L615.64 795.70M622.35 782.29L626.18 782.29L626.18 802.41L622.35 802.41M625.22 782.29L625.22 802.41M626.18 785.16L628.10 783.25L630.01 782.29L631.93 782.29L634.80 783.25L636.72 785.16L637.68 788.04L637.68 789.95L636.72 792.83L634.80 794.74L631.93 795.70L630.01 795.70L628.10 794.74L626.18 792.83M626.18 802.41L629.06 802.41M631.93 782.29L633.85 783.25L635.76 785.16L636.72 788.04L636.72 789.95L635.76 792.83L633.85 794.74L631.93 795.70M649.17 782.29L646.30 783.25L644.38 785.16L643.43 788.04L643.43 789.95L644.38 792.83L646.30 794.74L649.17 795.70L651.09 795.70L653.96 794.74L655.88 792.83M649.17 782.29L647.26 783.25L645.34 785.16L644.38 788.04L644.38 789.95L645.34 792.83L647.26 794.74L649.17 795.70M649.17 782.29L652.05 782.29L653.96 783.25L655.88 785.16L655.88 786.12L654.92 787.08L653.96 786.12L654.92 785.16M661.08 775.66L671.57 775.66M676.23 771.00L676.81 771.58L676.23 772.16L675.65 771.58L675.65 771.00L676.23 769.83L676.81 769.25L678.56 768.67L680.89 768.67L682.63 769.25L683.22 770.42L683.22 772.16L682.63 773.33L680.89 773.91L679.14 773.91M676.23 778.57L676.81 777.99L676.23 777.41L675.65 777.99L675.65 778.57L676.23 779.74L676.81 780.32L678.56 780.90L680.89 780.90L682.63 780.32L683.22 779.74L683.80 778.57L683.80 776.82L683.22 775.66L682.05 774.49L680.89 773.91L682.05 773.33L682.63 772.16L682.63 770.42L682.05 769.25L680.89 768.67M680.89 780.90L682.05 780.32L682.63 779.74L683.22 778.57L683.22 776.82L682.63 775.08M688.42 771.75L695.13 771.75L695.13 802.41L688.42 802.41M694.17 771.75L694.17 802.41" stroke="#000" stroke-width="2.40"/><g transform="translate(97.50 387.10) rotate(-90)"><path d="M-31.61 -20.12L-20.12 -20.12L-17.24 -19.16L-16.29 -18.20L-15.33 -16.29L-15.33 -14.37L-16.29 -12.45L-17.24 -11.50L-20.12 -10.54L-27.78 -10.54L-27.78 -20.12M-31.61 0.00L-20.12 0.00L-17.24 -0.96L-16.29 -1.92L-15.33 -3.83L-15.33 -6.71L-16.29 -8.62L-17.24 -9.58L-20.12 -10.54L-18.20 -11.50L-17.24 -12.45L-16.29 -14.37L-16.29 -16.29L-17.24 -18.20L-18.20 -19.16L-20.12 -20.12M-28.74 -20.12L-28.74 0.00M-27.78 -10.54L-27.78 0.00M-20.12 -10.54L-18.20 -9.58L-17.24 -8.62L-16.29 -6.71L-16.29 -3.83L-17.24 -1.92L-18.20 -0.96L-20.12 0.00M-10.54 -13.41L-6.71 -13.41L-6.71 0.00L-10.54 0.00M-7.66 -13.41L-7.66 0.00M-6.71 0.00L-3.83 0.00M-7.66 -20.12L-8.62 -19.16L-7.66 -18.20L-6.71 -19.16L-7.66 -20.12M2.87 -11.50L2.87 -10.54L1.92 -10.54L1.92 -11.50L2.87 -12.45L4.79 -13.41L8.62 -13.41L10.54 -12.45L11.50 -11.50L12.45 -9.58L12.45 -2.87L13.41 -0.96L14.37 0.00L15.33 0.00M4.79 -7.66L1.92 -6.71L0.96 -4.79L0.96 -2.87L1.92 -0.96L4.79 0.00L7.66 0.00L9.58 -0.96L11.50 -2.87L11.50 -11.50M4.79 -7.66L2.87 -6.71L1.92 -4.79L1.92 -2.87L2.87 -0.96L4.79 0.00M4.79 -7.66L10.54 -8.62L11.50 -9.58M11.50 -2.87L12.45 -0.96L14.37 0.00M20.12 -10.54L20.12 -11.50L21.08 -12.45L22.99 -13.41L26.82 -13.41L28.74 -12.45L29.70 -11.50L30.66 -9.58L30.66 -13.41L29.70 -11.50M20.12 -10.54L20.12 -9.58L21.08 -8.62L22.99 -7.66L27.78 -5.75L29.70 -4.79L30.66 -3.83L30.66 -1.92L29.70 -0.96L27.78 0.00L23.95 0.00L22.03 -0.96L21.08 -1.92L20.12 -3.83L20.12 0.00L21.08 -1.92M20.12 -10.54L21.08 -9.58L22.99 -8.62L27.78 -6.71L29.70 -5.75L30.66 -4.79L30.66 -3.83" stroke="#000" stroke-width="2.40" /></g></g></svg></body></html>
